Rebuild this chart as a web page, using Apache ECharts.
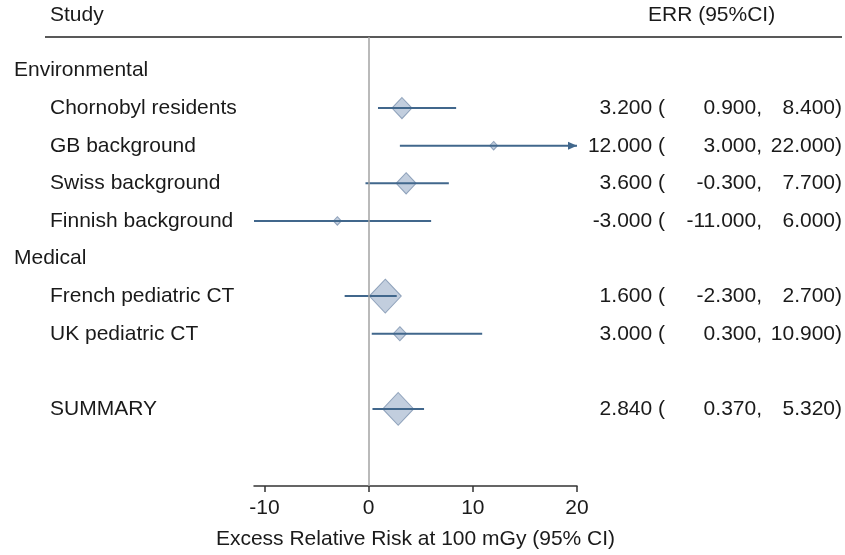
<!DOCTYPE html>
<html>
<head>
<meta charset="utf-8">
<title>Forest plot – ERR at 100 mGy</title>
<script src="https://cdn.jsdelivr.net/npm/echarts@6/dist/echarts.min.js"></script>
<style>
  html, body { margin: 0; padding: 0; background: #ffffff; }
  #chart { width: 845px; height: 555px; }
</style>
</head>
<body>
<div id="chart"></div>
<script>
// Study groups and the row each heading occupies
const groupNames = ['Environmental', 'Medical'];
const groupRows = [0, 5];

// Studies, their row in the table, and estimates with 95% CI
const studies = ['Chornobyl residents', 'GB background', 'Swiss background', 'Finnish background',
                 'French pediatric CT', 'UK pediatric CT', 'SUMMARY'];
const studyRows = [1, 2, 3, 4, 6, 7, 9];
const err = [3.2, 12.0, 3.6, -3.0, 1.6, 3.0, 2.84];
const lower = [0.9, 3.0, -0.3, -11.0, -2.3, 0.3, 0.37];
const upper = [8.4, 22.0, 7.7, 6.0, 2.7, 10.9, 5.32];
// Relative study weights (marker area)
const weight = [25, 4, 25, 4, 64, 11, 60];

// Axis ticks
const xTicks = [-10, 0, 10, 20];
const xMin = -11, xMax = 20;

const FONT = '"Liberation Sans", Arial, sans-serif';
const FS = 21;
const TXT = '#1a1a1a';
const LINE = '#41678c';
const FILL = 'rgba(138,162,192,0.66)';
const EDGE = 'rgba(105,130,162,0.85)';

const chart = echarts.init(document.getElementById('chart'), null, { renderer: 'canvas' });

const ciData = studies.map((s, i) => [lower[i], upper[i], studyRows[i]]);
const pointData = studies.map((s, i) => [err[i], studyRows[i], weight[i]]);
const labelData = [];
groupNames.forEach((g, i) => labelData.push([groupRows[i], g, 0]));
studies.forEach((s, i) => labelData.push([studyRows[i], s, 1]));
const numData = studies.map((s, i) => [studyRows[i], err[i], lower[i], upper[i]]);

const option = {
  backgroundColor: '#ffffff',
  animation: false,
  grid: { left: 254, right: 268, top: 37, bottom: 69 },
  xAxis: {
    type: 'value',
    min: xMin,
    max: xMax,
    splitLine: { show: false },
    axisLine: { show: true, onZero: false, lineStyle: { color: '#333', width: 1.5 } },
    axisTick: { show: true, length: 6, customValues: xTicks, lineStyle: { color: '#333', width: 1.5 } },
    axisLabel: { customValues: xTicks, margin: 12, color: TXT, fontFamily: FONT, fontSize: FS },
    name: 'Excess Relative Risk at 100 mGy (95% CI)',
    nameLocation: 'middle',
    nameGap: 43,
    nameTextStyle: { color: TXT, fontFamily: FONT, fontSize: FS }
  },
  yAxis: {
    type: 'value',
    inverse: true,
    min: -0.891,
    max: 11.05,
    show: false
  },
  graphic: [
    { type: 'text', left: 50, top: 5, style: { text: 'Study', fill: TXT, font: FS + 'px ' + FONT } },
    { type: 'text', left: 648, top: 5, style: { text: 'ERR (95%CI)', fill: TXT, font: FS + 'px ' + FONT } },
    { type: 'line', shape: { x1: 45, y1: 37, x2: 842, y2: 37 }, style: { stroke: '#222', lineWidth: 1.5 } }
  ],
  series: [
    {
      // reference line at zero
      type: 'line',
      data: [],
      markLine: {
        silent: true,
        symbol: 'none',
        label: { show: false },
        lineStyle: { color: '#a3a3a3', width: 1.5, type: 'solid' },
        data: [{ xAxis: 0 }]
      }
    },
    {
      // study weight markers
      type: 'scatter',
      data: pointData,
      symbol: 'diamond',
      symbolSize: v => { const s = 4 * Math.sqrt(v[2]); return [s, s * 1.06]; },
      itemStyle: { color: FILL, borderColor: EDGE, borderWidth: 1 },
      z: 3
    },
    {
      // confidence interval lines, with an arrow where the CI runs past the axis
      type: 'custom',
      clip: false,
      z: 4,
      data: ciData,
      renderItem: (params, api) => {
        const lo = Math.max(api.value(0), xMin);
        const hiRaw = api.value(1);
        const hi = Math.min(hiRaw, xMax);
        const row = api.value(2);
        const p1 = api.coord([lo, row]);
        const p2 = api.coord([hi, row]);
        const children = [{
          type: 'line',
          shape: { x1: p1[0], y1: p1[1], x2: p2[0], y2: p2[1] },
          style: { stroke: LINE, lineWidth: 2 }
        }];
        if (hiRaw > xMax) {
          children.push({
            type: 'polygon',
            shape: { points: [[p2[0], p2[1]], [p2[0] - 9, p2[1] - 4], [p2[0] - 9, p2[1] + 4]] },
            style: { fill: LINE }
          });
        }
        return { type: 'group', children };
      }
    },
    {
      // study and group labels
      type: 'custom',
      clip: false,
      data: labelData,
      renderItem: (params, api) => {
        const y = api.coord([0, api.value(0)])[1];
        const indent = labelData[params.dataIndex][2];
        return {
          type: 'text',
          x: indent ? 50 : 14,
          y: y,
          style: {
            text: labelData[params.dataIndex][1],
            fill: TXT,
            font: FS + 'px ' + FONT,
            verticalAlign: 'middle',
            align: 'left'
          }
        };
      }
    },
    {
      // estimate and CI columns
      type: 'custom',
      clip: false,
      data: numData,
      renderItem: (params, api) => {
        const y = api.coord([0, api.value(0)])[1];
        const est = api.value(1), lo = api.value(2), hi = api.value(3);
        const mk = (t, x) => ({
          type: 'text', x: x, y: y,
          style: { text: t, fill: TXT, font: FS + 'px ' + FONT, verticalAlign: 'middle', align: 'right' }
        });
        return {
          type: 'group',
          children: [
            mk(est.toFixed(3) + ' (', 665),
            mk(lo.toFixed(3) + ',', 762),
            mk(hi.toFixed(3) + ')', 842)
          ]
        };
      }
    }
  ]
};

chart.setOption(option);
</script>
</body>
</html>
